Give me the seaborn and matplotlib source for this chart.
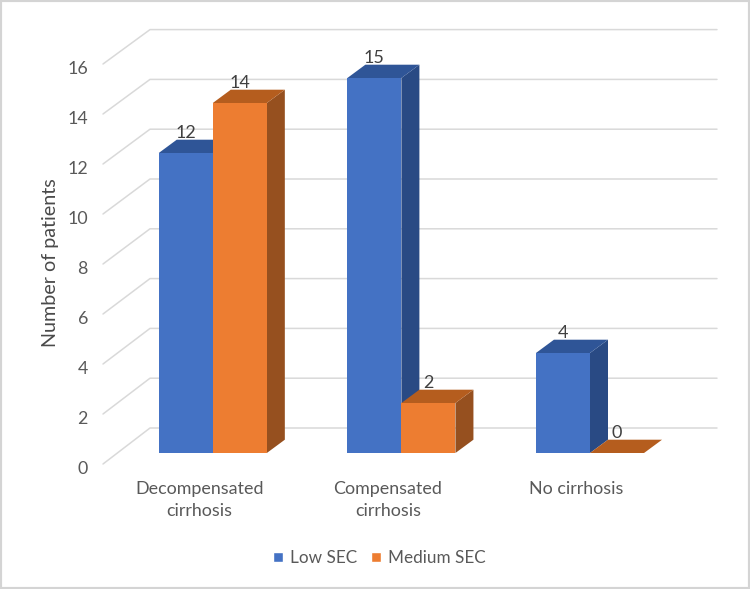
import pandas as pd
import seaborn as sns
import matplotlib.pyplot as plt
from matplotlib.patches import Polygon, Rectangle, Patch
from matplotlib.transforms import Affine2D, IdentityTransform

categories = ['Decompensated\ncirrhosis', 'Compensated\ncirrhosis', 'No cirrhosis']
low_sec = [12, 15, 4]
medium_sec = [14, 2, 0]
y_ticks = [0, 2, 4, 6, 8, 10, 12, 14, 16]

W, H = 750, 589
BLUE = ['#4472C4', '#2F5597', '#294A84']
ORANGE = ['#ED7D31', '#B55D1E', '#96501F']

sns.set_theme(style='white')
plt.rcParams['font.family'] = ['Lato', 'DejaVu Sans']

df = pd.DataFrame({
    'category': categories * 2,
    'patients': low_sec + medium_sec,
    'group': ['Low SEC'] * 3 + ['Medium SEC'] * 3,
})

fig = plt.figure(figsize=(W / 100, H / 100), dpi=100)
# axes box is the front plane of the bars, in pixels
ax = fig.add_axes([118.5 / W, (H - 453) / H, 565.8 / W, 400 / H])
sns.barplot(data=df, x='category', y='patients', hue='group', order=categories,
            palette=[BLUE[0], ORANGE[0]], width=0.573, saturation=1, ax=ax, legend=False,
            edgecolor='none', linewidth=0)
ax.set_xlim(-0.5, 2.5)
ax.set_ylim(0, 16)
sns.despine(ax=ax, left=True, bottom=True)
ax.set_xlabel('')
ax.set_ylabel('Number of patients', fontsize=14.2, color='#4A4A4A')
ax.yaxis.set_label_coords((59 - 118.5) / 565.8, 0.475)
ax.set_yticks(y_ticks)
ax.tick_params(axis='y', length=0, pad=22, labelsize=12.8, labelcolor='#595959')
ax.tick_params(axis='x', length=0, pad=20, labelsize=12.9, labelcolor='#595959')

# tick labels sit off the bar plane, at the front of the floor
for lab, v in zip(ax.get_yticklabels(), y_ticks):
    lab.set_transform(lab.get_transform() + Affine2D().translate(0, -14 - 0.04 * v))
for lab in ax.get_xticklabels():
    lab.set_transform(lab.get_transform() + Affine2D().translate(-13.5, 0))
    lab.set_linespacing(1.5)

# back wall grid lines, drawn in pixels from the data scale
for v in y_ticks:
    base = ax.transData.transform((0, v))[1]
    wall = base + 25 - 0.1 * v
    ax.plot([103, 150, 717], [base - 11, wall, wall], color='#D9D9D9', lw=1.1,
            zorder=0, clip_on=False, transform=IdentityTransform())

# extrude each bar: side and top faces are offset from the seaborn bar
DX, DY = 18, 13.3
bars = sorted(ax.patches, key=lambda b: b.get_x())
for i, bar in enumerate(bars):
    colors = BLUE if i % 2 == 0 else ORANGE
    (x0, y0) = ax.transData.transform((bar.get_x(), 0))
    (x1, y1) = ax.transData.transform((bar.get_x() + bar.get_width(), bar.get_height()))
    z = 2 + i * 3
    side = [(x1, y0), (x1 + DX, y0 + DY), (x1 + DX, y1 + DY), (x1, y1)]
    top = [(x0, y1), (x0 + DX, y1 + DY), (x1 + DX, y1 + DY), (x1, y1)]
    ax.add_patch(Polygon(side, closed=True, fc=colors[2], ec='none', zorder=z,
                         transform=IdentityTransform(), clip_on=False))
    ax.add_patch(Polygon(top, closed=True, fc=colors[1], ec='none', zorder=z + 1,
                         transform=IdentityTransform(), clip_on=False))
    bar.set_zorder(z + 2)
    ax.annotate(f'{bar.get_height():.0f}', (bar.get_x() + bar.get_width() / 2, bar.get_height()),
                xytext=(0, 20), textcoords='offset pixels', ha='center', va='center',
                fontsize=13, color='#404040', zorder=40, annotation_clip=False)

handles = [Patch(fc=BLUE[0], label='Low SEC'), Patch(fc=ORANGE[0], label='Medium SEC')]
fig.legend(handles=handles, loc='center', bbox_to_anchor=(379 / W, (H - 558) / H), ncol=2,
           frameon=False, fontsize=12.3, labelcolor='#595959', handlelength=0.6,
           handleheight=0.6, handletextpad=0.4, columnspacing=0.8)

# picture frame
fig.add_artist(Rectangle((0, 0), 1, 1, transform=fig.transFigure, fill=False,
                         ec='#D4D4D4', lw=3))

fig.savefig('out.png', dpi=100)
